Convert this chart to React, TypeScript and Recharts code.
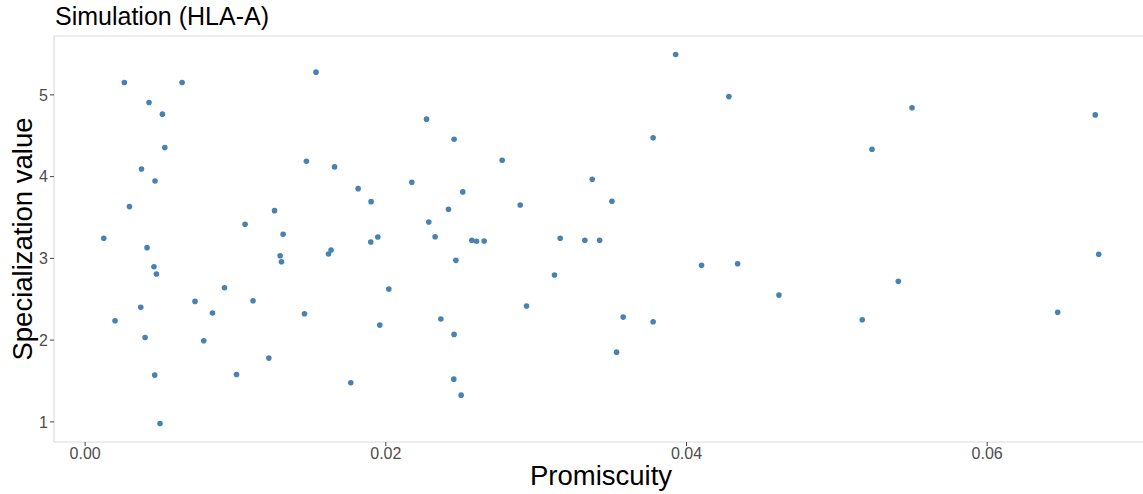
import {
  ScatterChart,
  Scatter,
  XAxis,
  YAxis,
  ReferenceArea,
} from "recharts";

// promiscuity (x) / specialization value (y)
const promiscuity = [
  0.00261, 0.00645, 0.01536, 0.00425, 0.00514, 0.0053, 0.01472, 0.01659, 0.00375, 0.00465,
  0.00295, 0.0126, 0.01064, 0.01317, 0.00124, 0.00412, 0.01297, 0.01306, 0.01636, 0.01619,
  0.00458, 0.00474, 0.00927, 0.00731, 0.01117, 0.0037, 0.00847, 0.01459, 0.00199, 0.00399,
  0.00789, 0.01222, 0.00463, 0.01007, 0.01767, 0.00498, 0.02271, 0.02454, 0.02774, 0.01816,
  0.02173, 0.03373, 0.01902, 0.02512, 0.02894, 0.03504, 0.02417, 0.02286, 0.01947, 0.02328,
  0.019, 0.02572, 0.02603, 0.02654, 0.0316, 0.03324, 0.03422, 0.02466, 0.03122, 0.0202,
  0.02936, 0.03579, 0.02366, 0.0196, 0.02454, 0.03535, 0.02452, 0.02501, 0.03928, 0.04282,
  0.055, 0.03778, 0.05234, 0.041, 0.0434, 0.05409, 0.04615, 0.03778, 0.05169, 0.06719,
  0.06742, 0.06469,
];
const specialization = [
  5.151, 5.151, 5.278, 4.906, 4.764, 4.355, 4.188, 4.119, 4.094, 3.947,
  3.633, 3.584, 3.417, 3.295, 3.246, 3.131, 3.033, 2.959, 3.102, 3.053,
  2.898, 2.809, 2.641, 2.474, 2.482, 2.401, 2.331, 2.322, 2.237, 2.033,
  1.992, 1.78, 1.572, 1.58, 1.478, 0.98, 4.703, 4.458, 4.2, 3.853,
  3.931, 3.968, 3.694, 3.813, 3.653, 3.699, 3.601, 3.445, 3.262, 3.265,
  3.2, 3.221, 3.209, 3.213, 3.246, 3.221, 3.221, 2.976, 2.796, 2.625,
  2.417, 2.282, 2.258, 2.184, 2.07, 1.853, 1.523, 1.327, 5.494, 4.979,
  4.841, 4.474, 4.335, 2.915, 2.935, 2.719, 2.551, 2.224, 2.249, 4.755,
  3.05, 2.34,
];
const xTicks = [0, 0.02, 0.04, 0.06];
const yTicks = [1, 2, 3, 4, 5];

const X_DOMAIN: [number, number] = [-0.00207, 0.07073];
const Y_DOMAIN: [number, number] = [0.754, 5.72];

const POINT = "#4682B4";
const FONT = "'Liberation Sans', Arial, sans-serif";

const data = promiscuity.map((x, i) => ({ x, y: specialization[i] }));

const Dot = (props: any) => (
  <circle cx={props.cx} cy={props.cy} r={2.8} fill={POINT} />
);

export default function App() {
  return (
    <div
      style={{
        position: "absolute",
        left: 0,
        top: 0,
        width: 1143,
        height: 494,
        overflow: "hidden",
        background: "#fff",
        fontFamily: FONT,
      }}
    >
      <ScatterChart
        width={1150}
        height={494}
        margin={{ top: 36, right: 1.5, left: 0, bottom: 22 }}
      >
        <XAxis
          type="number"
          dataKey="x"
          domain={X_DOMAIN}
          ticks={xTicks}
          allowDataOverflow
          tickFormatter={(v: number) => v.toFixed(2)}
          tick={{ fontSize: 16, fill: "#4D4D4D", fontFamily: FONT }}
          tickLine={{ stroke: "#444" }}
          tickSize={4}
          tickMargin={2}
          axisLine={false}
          height={30}
        />
        <YAxis
          type="number"
          dataKey="y"
          domain={Y_DOMAIN}
          ticks={yTicks}
          allowDataOverflow
          tick={{ fontSize: 16, fill: "#4D4D4D", fontFamily: FONT }}
          tickLine={{ stroke: "#444" }}
          tickSize={4}
          tickMargin={2}
          axisLine={false}
          width={54}
        />
        <ReferenceArea
          x1={X_DOMAIN[0]}
          x2={X_DOMAIN[1]}
          y1={Y_DOMAIN[0]}
          y2={Y_DOMAIN[1]}
          fill="none"
          stroke="#DCDCDC"
          strokeWidth={1.2}
          ifOverflow="visible"
        />
        <Scatter data={data} shape={Dot} isAnimationActive={false} />
        <text x={55} y={25} fontSize={25} fill="#000" fontFamily={FONT}>
          Simulation (HLA-A)
        </text>
        <text
          x={601}
          y={485}
          fontSize={27.5}
          fill="#000"
          textAnchor="middle"
          fontFamily={FONT}
        >
          Promiscuity
        </text>
        <text
          x={32}
          y={239}
          fontSize={27.5}
          fill="#000"
          textAnchor="middle"
          fontFamily={FONT}
          transform="rotate(-90 32 239)"
        >
          Specialization value
        </text>
      </ScatterChart>
    </div>
  );
}
